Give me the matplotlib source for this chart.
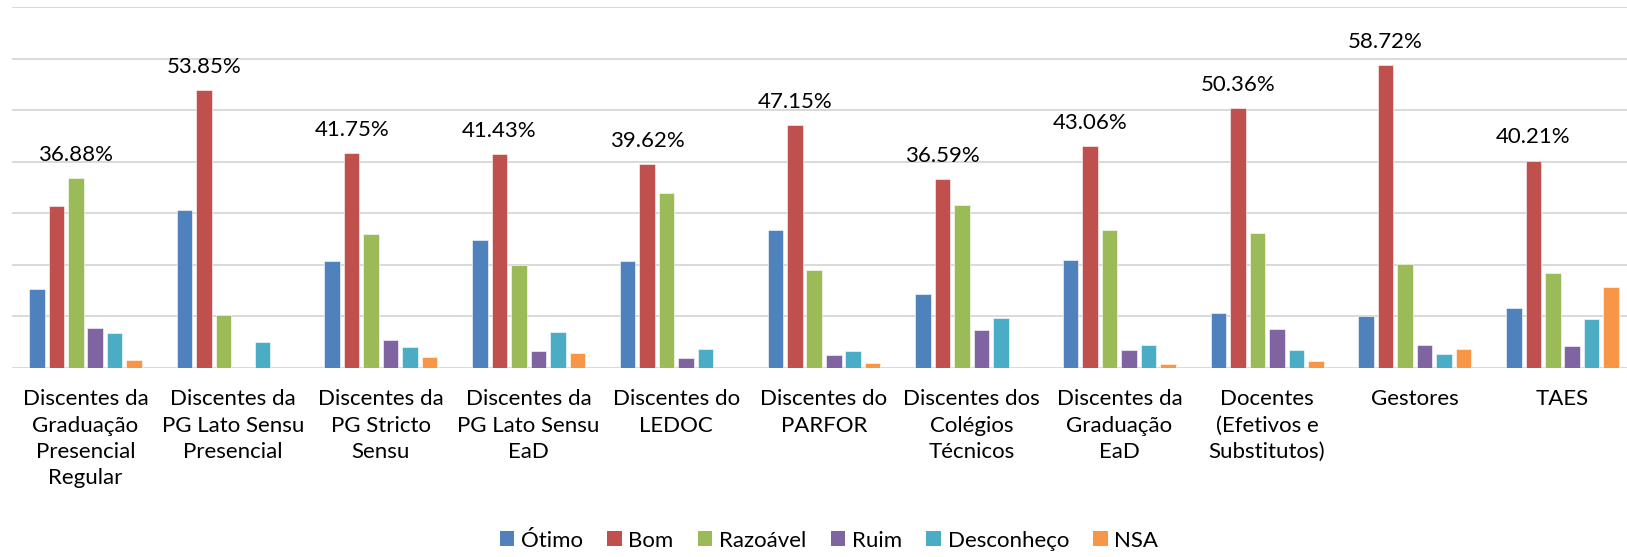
import matplotlib
matplotlib.use("Agg")
import matplotlib.pyplot as plt
import numpy as np
from matplotlib.patches import Patch

plt.rcParams["font.family"] = ["Lato", "DejaVu Sans"]

categories = [
    "Discentes da\nGraduação\nPresencial\nRegular",
    "Discentes da\nPG Lato Sensu\nPresencial",
    "Discentes da\nPG Stricto\nSensu",
    "Discentes da\nPG Lato Sensu\nEaD",
    "Discentes do\nLEDOC",
    "Discentes do\nPARFOR",
    "Discentes dos\nColégios\nTécnicos",
    "Discentes da\nGraduação\nEaD",
    "Docentes\n(Efetivos e\nSubstitutos)",
    "Gestores",
    "TAES",
]

series_names = ["Ótimo", "Bom", "Razoável", "Ruim", "Desconheço", "NSA"]
otimo = [15.3, 30.6, 20.7, 24.9, 20.7, 26.7, 14.4, 21.0, 10.6, 10.0, 11.5]
bom = [31.5, 53.85, 41.75, 41.43, 39.62, 47.15, 36.59, 43.06, 50.36, 58.72, 40.21]
razoavel = [36.88, 10.2, 25.9, 19.9, 33.9, 19.0, 31.6, 26.7, 26.2, 20.1, 18.4]
ruim = [7.65, 0, 5.3, 3.2, 1.8, 2.4, 7.3, 3.4, 7.5, 4.5, 4.2]
desconheco = [6.7, 5.0, 3.96, 7.0, 3.6, 3.3, 9.6, 4.4, 3.4, 2.7, 9.4]
nsa = [1.5, 0, 2.1, 2.9, 0, 0.9, 0, 0.66, 1.3, 3.6, 15.7]

colors = ["#4F81BD", "#C0504D", "#9BBB59", "#8064A2", "#4BACC6", "#F79646"]

data = np.array([otimo, bom, razoavel, ruim, desconheco, nsa])
n_series, n_cat = data.shape
x = np.arange(n_cat)
slot = 0.132
bar_w = 0.105

fig = plt.figure(figsize=(16.27, 5.57), dpi=100)
# plot area runs a little past the right edge of the canvas
ax = fig.add_axes([11.65 / 1627, 189.3 / 557, 1624.7 / 1627, 360.4 / 557])

for j in range(n_series):
    offs = (j - (n_series - 1) / 2) * slot
    ax.bar(x + offs, data[j], width=bar_w, color=colors[j], zorder=3,
           edgecolor="white", linewidth=0.4)

# label the tallest bar of each group
for i in range(n_cat):
    j = int(np.argmax(data[:, i]))
    offs = (j - (n_series - 1) / 2) * slot
    ax.annotate(f"{data[j, i]:.2f}%", (x[i] + offs, data[j, i]),
                xytext=(0, 9.5), textcoords="offset points",
                ha="center", va="bottom", fontsize=16, color="black")

ax.set_xlim(-0.5, n_cat - 0.5)
ax.set_ylim(0, 70)
ax.set_yticks(np.arange(0, 71, 10))
ax.yaxis.grid(True, color="#d9d9d9", lw=1.4, zorder=0)
ax.set_axisbelow(True)
ax.tick_params(axis="y", length=0, labelleft=False)
ax.set_xticks(x)
ax.set_xticklabels(categories, fontsize=16, linespacing=1.4)
ax.tick_params(axis="x", length=0, pad=15.5)
for s in ax.spines.values():
    s.set_visible(False)

handles = [Patch(facecolor=c, edgecolor="none") for c in colors]
fig.legend(handles, series_names, loc="center", bbox_to_anchor=(829 / 1627, 1 - 540.6 / 557),
           ncol=6, frameon=False, fontsize=16, handlelength=0.65, handleheight=0.65,
           handletextpad=0.3, columnspacing=1.1)

fig.savefig("out.png", dpi=100)
